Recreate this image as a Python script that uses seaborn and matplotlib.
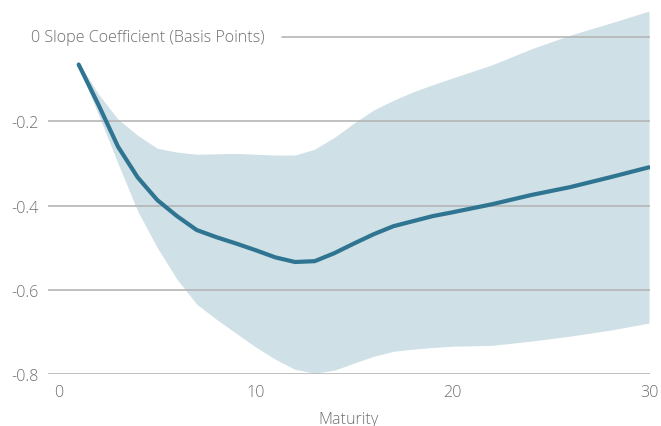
import matplotlib
matplotlib.use("Agg")
import matplotlib.pyplot as plt
import seaborn as sns
import pandas as pd

maturity = [1, 2, 3, 4, 5, 6, 7, 8, 9, 10, 11, 12, 13, 14, 15, 16, 17, 18, 19, 20, 22, 24, 26, 28, 30]
slope = [-0.065, -0.16, -0.26, -0.333, -0.387, -0.425, -0.458, -0.475, -0.49, -0.506, -0.523, -0.534,
         -0.532, -0.513, -0.49, -0.468, -0.449, -0.437, -0.425, -0.416, -0.397, -0.375, -0.356, -0.333, -0.309]
upper = [-0.06, -0.135, -0.195, -0.233, -0.264, -0.273, -0.278, -0.277, -0.276, -0.278, -0.28, -0.28,
         -0.266, -0.238, -0.204, -0.173, -0.15, -0.13, -0.113, -0.097, -0.066, -0.028, 0.005, 0.033, 0.062]
lower = [-0.07, -0.183, -0.30, -0.413, -0.50, -0.575, -0.634, -0.67, -0.703, -0.736, -0.765, -0.789,
         -0.798, -0.791, -0.774, -0.758, -0.746, -0.741, -0.737, -0.734, -0.732, -0.722, -0.71, -0.696, -0.679]
yticks = [-0.8, -0.6, -0.4, -0.2]
xticks = [0, 10, 20, 30]

df = pd.DataFrame({"Maturity": maturity, "Slope": slope, "Upper": upper, "Lower": lower})

sns.set_style("white")
plt.rcParams["font.family"] = ["Open Sans", "DejaVu Sans"]
plt.rcParams["font.weight"] = "light"

fig = plt.figure(figsize=(6.61, 4.27), dpi=100)
ax = fig.add_axes([48 / 661, 52 / 427, 602 / 661, 375 / 427])

grid_c = "#b5b5b5"
text_c = "#6e6e6e"
fs = 11.6
ax.fill_between(df["Maturity"], df["Lower"], df["Upper"], color="#cfe0e7", lw=0, zorder=1)
sns.lineplot(data=df, x="Maturity", y="Slope", ax=ax, color="#2f7591", lw=3, zorder=3)

ax.set_xlim(-0.56, 30.05)
ax.set_ylim(-0.8, 0.0907)
ax.set_yticks(yticks)
ax.set_yticklabels([f"{v:.1f}" for v in yticks])
ax.set_xticks(xticks)
ax.set_xticklabels([str(v) for v in xticks])
ax.yaxis.grid(True, color=grid_c, lw=1.2, zorder=2)
ax.set_axisbelow(False)
for l in ax.get_ygridlines():
    l.set_zorder(2)
ax.axhline(0, xmin=(282 - 48) / 602, xmax=1, color=grid_c, lw=1.2, zorder=2)
ax.text(-0.56 - 17 / 19.67, 0, "0 Slope Coefficient (Basis Points)", ha="left", va="center",
        fontsize=fs, color=text_c, fontweight="light")
for s in ax.spines.values():
    s.set_visible(False)
ax.tick_params(axis="y", length=0, pad=6.5, labelsize=fs, labelcolor=text_c)
ax.tick_params(axis="x", length=0, pad=7, labelsize=fs, labelcolor=text_c)
ax.set_xlabel("Maturity", fontsize=fs, color=text_c, labelpad=8, fontweight="light")
ax.set_ylabel("")

fig.savefig("out.png", dpi=100)
